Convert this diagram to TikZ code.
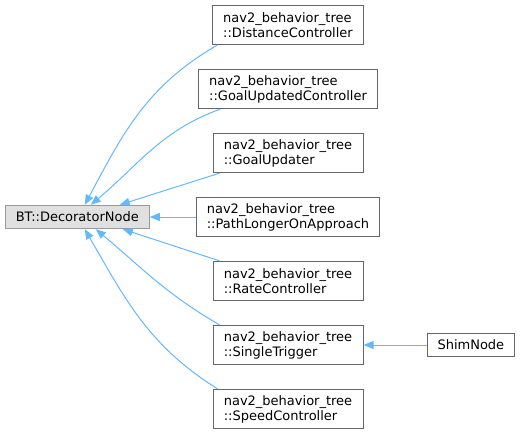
\documentclass[tikz,border=0pt]{standalone}
\usepackage{fontspec}
\setmainfont{DejaVu Sans}
\usetikzlibrary{positioning, arrows.meta}

\definecolor{edgeblue}{HTML}{63B8FF}
\definecolor{boxgray}{HTML}{666666}
\definecolor{basegray}{HTML}{999999}
\definecolor{basefill}{HTML}{E0E0E0}

\begin{document}
\begin{tikzpicture}[
    x=0.75pt, y=-0.75pt,
    font=\fontsize{9.75}{11.25}\selectfont,
    class_box/.style={draw=boxgray, line width=0.75pt, fill=white, align=left, inner xsep=7.9pt, inner ysep=1.5pt, minimum width=112.5pt, minimum height=29.5pt},
    base_box/.style={class_box, draw=basegray, fill=basefill, minimum width=0pt, minimum height=17.5pt},
    leaf_box/.style={class_box, minimum width=0pt, minimum height=17.5pt},
    inherit/.style={-{Triangle[length=7.5pt, width=6pt]}, draw=edgeblue, line width=0.75pt}
]
\useasboundingbox (0,0) rectangle (521,435);

% Derived classes, one column
\node[class_box] (dist) at (288,25) {nav2\_behavior\_tree\\::DistanceController};
\node[class_box, below=17.75pt of dist] (goalctl) {nav2\_behavior\_tree\\::GoalUpdatedController};
\node[class_box, below=17.75pt of goalctl] (goalupd) {nav2\_behavior\_tree\\::GoalUpdater};
\node[class_box, below=17.75pt of goalupd] (pathlonger) {nav2\_behavior\_tree\\::PathLongerOnApproach};
\node[class_box, below=17.75pt of pathlonger] (rate) {nav2\_behavior\_tree\\::RateController};
\node[class_box, below=17.75pt of rate] (single) {nav2\_behavior\_tree\\::SingleTrigger};
\node[class_box, below=17.75pt of single] (speed) {nav2\_behavior\_tree\\::SpeedController};

% Base class and leaf
\node[base_box, left=34.5pt of pathlonger] (decorator) {BT::DecoratorNode};
\node[leaf_box, right=47.25pt of single] (shim) {ShimNode};

% Inheritance edges
\draw[inherit] ([shift={(5,0)}]dist.south west) to[out=210, in=62] ([shift={(7.5,0)}]decorator.north);
\draw[inherit] ([shift={(22,0)}]goalctl.south west) to[out=200, in=40] ([shift={(13.5,0)}]decorator.north);
\draw[inherit] ([shift={(7,0)}]goalupd.south west) -- ([shift={(42.5,0)}]decorator.north);
\draw[inherit] (pathlonger) -- (decorator);
\draw[inherit] ([shift={(7,0)}]rate.north west) -- ([shift={(45.5,0)}]decorator.south);
\draw[inherit] ([shift={(7,0)}]single.north west) to[out=150, in=-40] ([shift={(18.5,0)}]decorator.south);
\draw[inherit] ([shift={(5,0)}]speed.north west) to[out=148, in=-60] ([shift={(7.5,0)}]decorator.south);
\draw[inherit] (shim) -- (single);

\end{tikzpicture}
\end{document}
